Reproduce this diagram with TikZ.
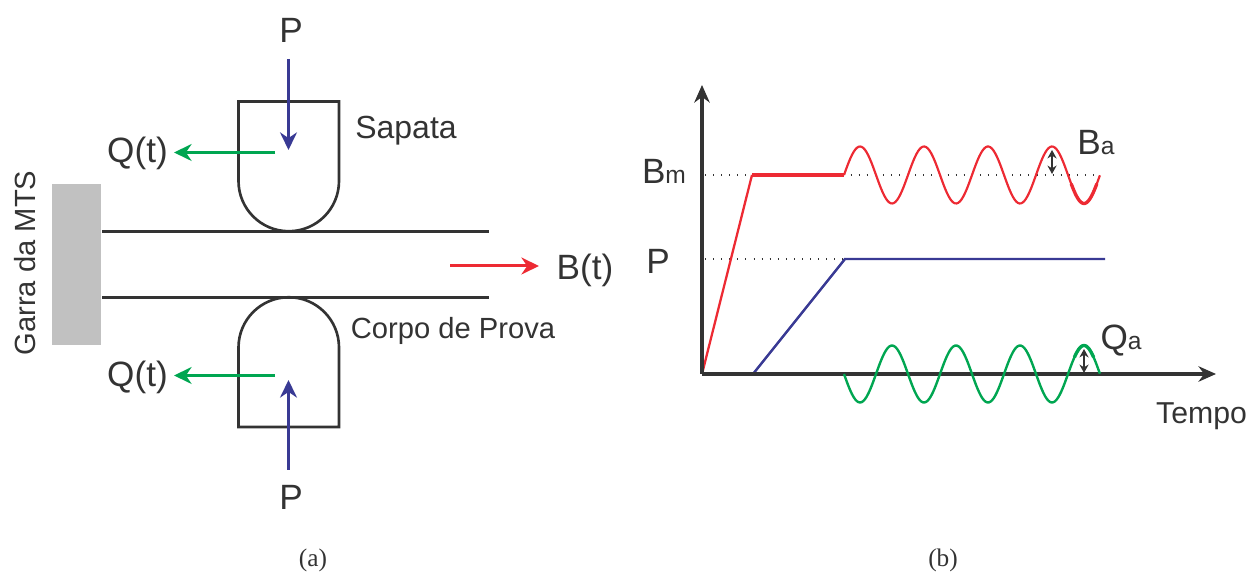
\documentclass[tikz,border=0pt]{standalone}
\usepackage{fontspec}
\setmainfont{Liberation Sans}
\newfontfamily\capfont{Liberation Serif}
\usetikzlibrary{arrows.meta,positioning}
\definecolor{inkgray}{HTML}{333333}
\definecolor{garragray}{HTML}{C1C1C1}
\definecolor{forceblue}{HTML}{393A94}
\definecolor{forcegreen}{HTML}{00A651}
\definecolor{forcered}{HTML}{ED2A33}
\begin{document}
\begin{tikzpicture}[>=Stealth, text=inkgray, inner sep=0pt,
  label/.style={font=\fontsize{10}{12}\selectfont},
  smalllabel/.style={font=\fontsize{9.1}{11}\selectfont},
  caption/.style={font=\capfont\fontsize{7.2}{9}\selectfont},
  solid line/.style={draw=inkgray, line width=0.75pt},
  force/.style={->, line width=0.85pt, arrows={-{Stealth[length=5pt,width=4.8pt]}}},
  axisline/.style={line width=0.95pt, draw=inkgray, arrows={-{Stealth[length=5pt,width=4.4pt]}}},
  amp/.style={draw=inkgray, line width=0.7pt, arrows={{Stealth[length=2.4pt,width=2.6pt]}-{Stealth[length=2.4pt,width=2.6pt]}}},
  guide/.style={draw=inkgray, line width=0.3pt, dotted}]
\useasboundingbox (0,0) rectangle (12.48,5.72);
% (a)
\node[fill=garragray, minimum width=0.49cm, minimum height=1.61cm] (garra) at (0.765,3.075) {};
\node[font=\fontsize{8.3}{10}\selectfont, rotate=90] (garralabel) at (0.25,3.09) {Garra da MTS};
\coordinate (tl) at (1.02,3.40); \coordinate (tr) at (4.89,3.40);
\coordinate (bl) at (1.02,2.745);  \coordinate (br) at (4.89,2.745);
\draw[solid line, line width=0.85pt] (tl) -- (tr);
\draw[solid line, line width=0.85pt] (bl) -- (br);
\draw[solid line] (2.385,3.91) -- (2.385,4.705) -- (3.39,4.705) -- (3.39,3.91) arc (0:-180:0.5025);
\draw[solid line] (2.385,2.245) -- (2.385,1.45) -- (3.39,1.45) -- (3.39,2.245) arc (0:180:0.5025);
\node[label] (ptop) at (2.91,5.42) {P};
\node[label] (pbot) at (2.91,0.75) {P};
\node[label] (qtop) at (1.375,4.19) {Q(t)};
\node[label] (qbot) at (1.375,1.95) {Q(t)};
\node[label] (bt) at (5.85,3.02) {B(t)};
\node[smalllabel] (sapata) at (4.06,4.41) {Sapata};
\node[font=\fontsize{8.3}{10}\selectfont] (corpo) at (4.53,2.41) {Corpo de Prova};
\coordinate (pa) at (2.885,5.13); \coordinate (pb) at (2.885,4.22);
\coordinate (pc) at (2.885,1.02); \coordinate (pd) at (2.885,1.92);
\coordinate (qa) at (2.75,4.195); \coordinate (qb) at (1.74,4.195);
\coordinate (qc) at (2.75,1.965); \coordinate (qd) at (1.74,1.965);
\coordinate (ba) at (4.50,3.06);  \coordinate (bb) at (5.39,3.06);
\draw[force, forceblue] (pa) -- (pb);
\draw[force, forceblue] (pc) -- (pd);
\draw[force, forcegreen] (qa) -- (qb);
\draw[force, forcegreen] (qc) -- (qd);
\draw[force, forcered] (ba) -- (bb);
\node[caption] (capa) at (3.13,0.12) {(a)};
% (b)
\coordinate (o) at (7.02,1.98);
\coordinate (ytip) at (7.02,4.87);
\coordinate (xtip) at (12.16,1.98);
\coordinate (rampa) at (7.52,3.97);
\coordinate (rampb) at (8.44,3.97);
\coordinate (blua) at (7.53,1.98);
\coordinate (blub) at (8.45,3.13);
\coordinate (bluc) at (11.05,3.13);
\draw[guide] (7.05,3.97) -- (11.0,3.97);
\draw[guide] (7.05,3.13) -- (blub);
\draw[forceblue, line width=0.7pt] (blua) -- (blub) -- (bluc);
\draw[forcered, line width=0.65pt] (o) -- (rampa);
\draw[forcered, line width=1pt] (rampa) -- (rampb);
\draw[forcered, line width=0.62pt] plot[domain=0:4, samples=160, smooth] ({8.44+0.64*\x},{3.97+0.285*sin(360*\x)});
\draw[forcered, line width=0.95pt] plot[domain=3.55:3.95, samples=20, smooth] ({8.44+0.64*\x},{3.97+0.285*sin(360*\x)});
\draw[axisline] (o) -- (ytip);
\draw[axisline] (o) -- (xtip);
\draw[forcegreen, line width=0.68pt] plot[domain=0:4, samples=160, smooth] ({8.44+0.64*\x},{1.98-0.285*sin(360*\x)});
\draw[forcegreen, line width=0.95pt] plot[domain=3.6:3.9, samples=20, smooth] ({8.44+0.64*\x},{1.98-0.285*sin(360*\x)});
\draw[amp] (10.52,4.22) -- (10.52,3.98);
\draw[amp] (10.84,2.23) -- (10.84,1.99);
\node[label] (bm) at (6.64,4.01) {B\fontsize{7}{8}\selectfont m};
\node[label] (plabel) at (6.58,3.11) {P};
\node[label] (bamp) at (10.96,4.29) {B\fontsize{7}{8}\selectfont a};
\node[label] (qamp) at (11.21,2.31) {Q\fontsize{7}{8}\selectfont a};
\node[font=\fontsize{8.6}{10}\selectfont] (tempo) at (12.015,1.56) {Tempo};
\node[caption] (capb) at (9.43,0.12) {(b)};
\end{tikzpicture}
\end{document}
